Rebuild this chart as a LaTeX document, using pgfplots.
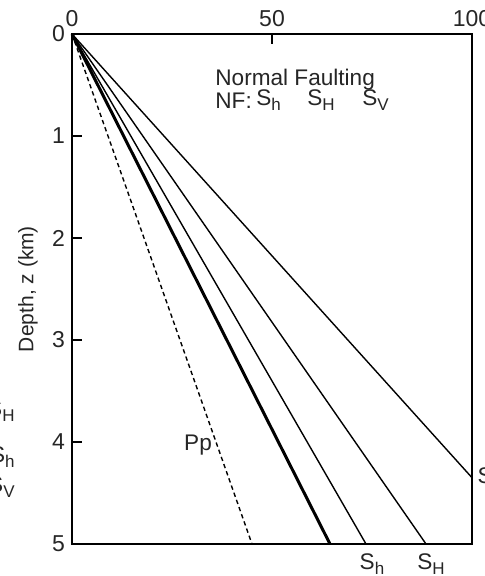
\documentclass[border=0pt]{standalone}
\usepackage{fontspec}
\setmainfont{Liberation Sans}
\usepackage{pgfplots}
\pgfplotsset{compat=1.18}
\newcommand{\sub}[1]{\raisebox{-0.4ex}{\fontsize{8.5}{9}\selectfont #1}}
\begin{document}
\begin{tikzpicture}[x=1pt,y=1pt]
\useasboundingbox (-36,-16) rectangle (206.5,272);
\begin{axis}[
  at={(0,0)}, anchor=south west,
  width=200pt, height=255pt, scale only axis,
  xmin=0, xmax=100, ymin=0, ymax=5,
  y dir=reverse,
  xtick={0,50,100}, ytick={0,1,2,3,4,5},
  xtick pos=right, xticklabel pos=right,
  ytick pos=left, yticklabel pos=left,
  major tick length=5pt,
  tick style={line width=0.8pt, black},
  axis line style={line width=0.7pt},
  /pgf/number format/assume math mode=true,
  ticklabel style={font=\fontsize{11.5}{13}\selectfont, text=black!85},
  ylabel={Depth, z (km)},
  ylabel style={at={(axis description cs:-0.11,0.5)}, anchor=center, font=\fontsize{10.5}{12}\selectfont, text=black!85},
  clip=false,
]
\addplot[black, line width=0.7pt, dash pattern=on 2.2pt off 1.6pt] coordinates {(0,0) (45,5)};
\addplot[black, line width=1.5pt] coordinates {(0,0) (64.5,5)};
\addplot[black, line width=0.7pt] coordinates {(0,0) (73.5,5)};
\addplot[black, line width=0.7pt] coordinates {(0,0) (88.5,5)};
\addplot[black, line width=0.7pt] coordinates {(0,0) (100,4.35)};
\draw[line width=1.2pt] (axis cs:0,0) -- (axis cs:0,5) -- (axis cs:100,5);
\begin{scope}[every node/.style={font=\fontsize{11.3}{13}\selectfont, text=black!85, inner sep=0pt}]
\node[anchor=west] at (axis cs:35.75,0.45) {Normal Faulting};
\node[anchor=west] at (axis cs:35.75,0.65) {NF:};
\node[anchor=west] at (axis cs:46,0.65) {S\sub{h}};
\node[anchor=west] at (axis cs:58.75,0.65) {S\sub{H}};
\node[anchor=west] at (axis cs:72.5,0.65) {S\sub{V}};
\node at (axis cs:31.5,4.03) {Pp};
\node at (axis cs:75,5.2) {S\sub{h}};
\node at (axis cs:89.75,5.2) {S\sub{H}};
\node[anchor=west] at (axis cs:101.3,4.35) {S\sub{V}};
\node[anchor=east] at (axis cs:-14.25,3.7) {S\sub{H}};
\node[anchor=east] at (axis cs:-14.25,4.15) {S\sub{h}};
\node[anchor=east] at (axis cs:-14.25,4.44) {S\sub{V}};
\end{scope}
\end{axis}
\end{tikzpicture}
\end{document}
